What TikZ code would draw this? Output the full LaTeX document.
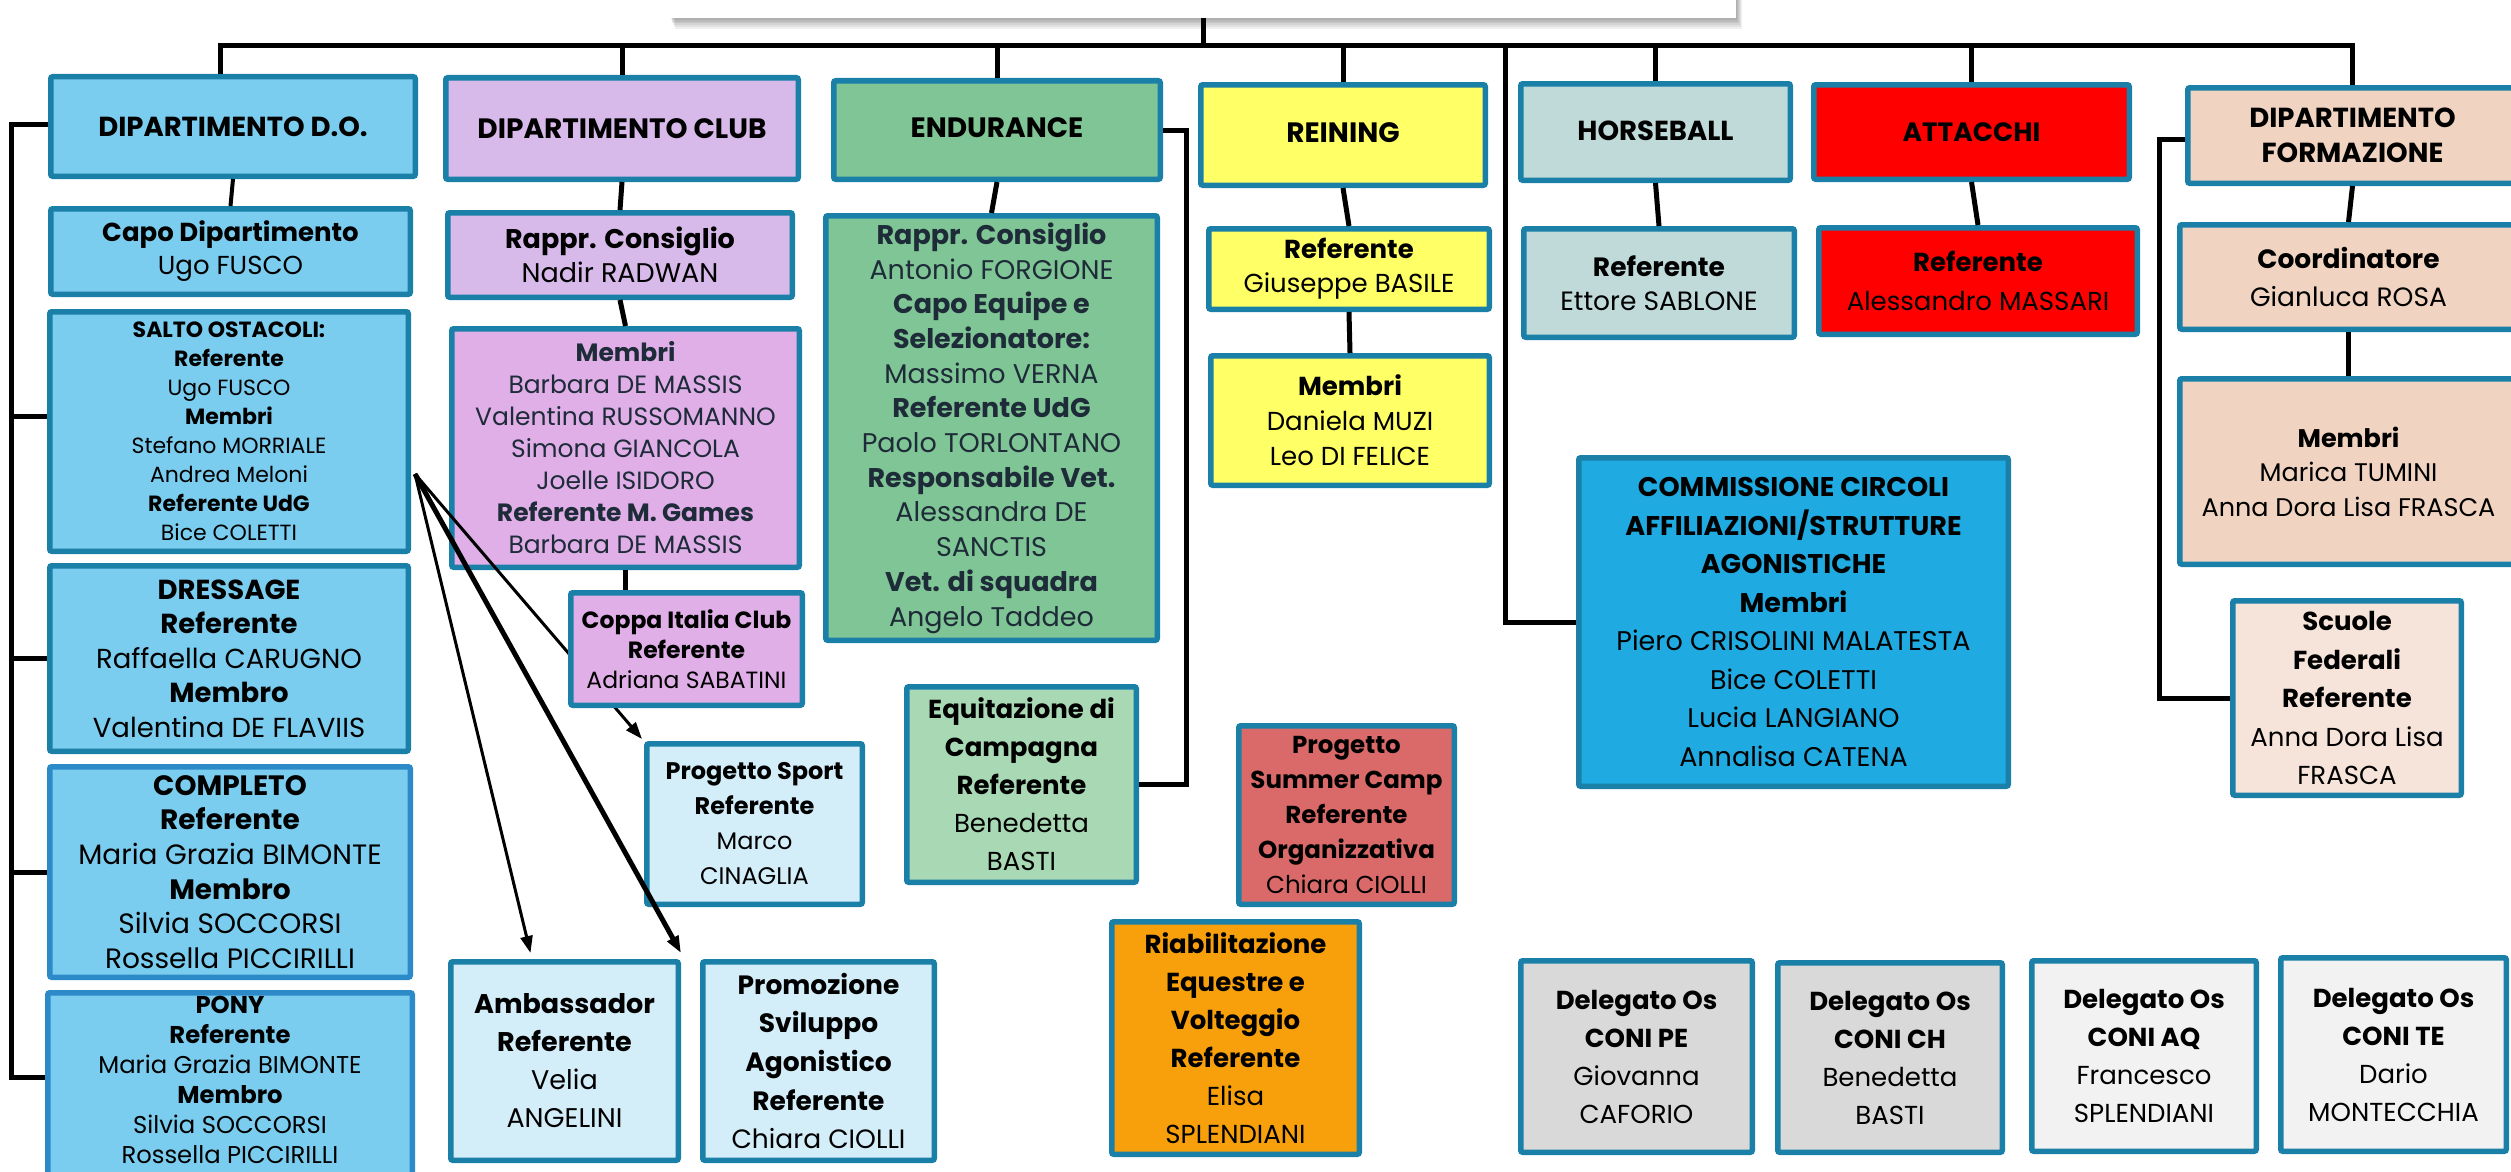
\documentclass[tikz,border=0pt]{standalone}
\usepackage{fontspec}
\setmainfont{Poppins}
\usetikzlibrary{arrows.meta,calc}
\definecolor{cBord}{HTML}{1A80A8}
\definecolor{cBordB}{HTML}{2C8AC9}
\definecolor{cDO}{HTML}{7ACDEF}
\definecolor{cClub}{HTML}{D7B9EA}
\definecolor{cClubB}{HTML}{E0AFE8}
\definecolor{cEnd}{HTML}{80C595}
\definecolor{cEq}{HTML}{A8D8B4}
\definecolor{cRein}{HTML}{FFFF66}
\definecolor{cHB}{HTML}{C0DADA}
\definecolor{cAtt}{HTML}{FF0000}
\definecolor{cForm}{HTML}{F0D4C1}
\definecolor{cFormB}{HTML}{F6E4DA}
\definecolor{cComm}{HTML}{1FABE1}
\definecolor{cLB}{HTML}{D3EDF9}
\definecolor{cSum}{HTML}{D96A69}
\definecolor{cOr}{HTML}{F8A00B}
\definecolor{cGa}{HTML}{D9D9D9}
\definecolor{cGb}{HTML}{F2F2F2}
\definecolor{cDark}{HTML}{1E2B38}
\newcommand\fz[2]{\fontsize{#1}{#2}\selectfont}
\newcommand\bx[7]{%
  \node[bx,#2,minimum width={#5-#3-5.5},minimum height={#6-#4-5.5}] (#1) at ({(#3+#5)/2},{(#4+#6)/2}) {#7};}
\tikzset{
  bx/.style={draw=cBord,line width=5.5pt,rounded corners=2pt,align=center,inner sep=0pt,text=black},
  conn/.style={line width=5pt,black},
  thinconn/.style={line width=4pt,black},
  arr/.style={black,-{Triangle[length=17pt,width=12pt]}}
}
\begin{document}
\begin{tikzpicture}[x=1pt,y=-1pt]
\useasboundingbox (0,0) rectangle (2511,1172);
\fill[white] (0,0) rectangle (2511,1172);
\clip (0,0) rectangle (2511,1172);

% top box with shadow
\foreach \s in {2,4,6,8,10,12}{
  \fill[black,opacity=0.06] (670+\s*0.4,-100) rectangle (1736+\s*0.5,18+\s*0.9);
}
\node[fill=white,inner sep=0pt,minimum width=1066,minimum height=118] (top) at (1203,-41) {};

% level 1
\bx{do}{fill=cDO,font={\fz{27.5}{32}\bfseries}}{48}{74}{418}{179}{DIPARTIMENTO D.O.}
\bx{club}{fill=cClub,font={\fz{28}{32}\bfseries}}{443}{75}{801}{182}{DIPARTIMENTO CLUB}
\bx{endu}{fill=cEnd,font={\fz{28}{32}\bfseries}}{831}{78}{1163}{182}{\raisebox{5pt}{ENDURANCE}}
\bx{rein}{fill=cRein,font={\fz{28}{32}\bfseries}}{1198}{82}{1488}{188}{\raisebox{5pt}{REINING}}
\bx{hb}{fill=cHB,font={\fz{27.5}{32}\bfseries}}{1518}{81}{1793}{183}{\raisebox{3pt}{HORSEBALL}}
\bx{att}{fill=cAtt,font={\fz{26.5}{32}\bfseries}}{1811}{82}{2132}{182}{ATTACCHI}
\bx{form}{fill=cForm,font={\fz{27.5}{35}\bfseries}}{2185}{85}{2520}{186}{DIPARTIMENTO\\FORMAZIONE}

% D.O. column
\bx{capo}{fill=cDO,font={\fz{26}{33}}}{48}{206}{413}{297}{\textbf{Capo Dipartimento}\\Ugo FUSCO}
\bx{salto}{fill=cDO,font={\fz{22}{29}}}{47}{309}{411}{554}{\textbf{SALTO OSTACOLI:}\\\textbf{Referente}\\Ugo FUSCO\\\textbf{Membri}\\Stefano MORRIALE\\Andrea Meloni\\\textbf{Referente UdG}\\Bice COLETTI}
\bx{dress}{fill=cDO,font={\fz{27.5}{34.5}}}{47}{563}{411}{754}{\textbf{DRESSAGE}\\\textbf{Referente}\\Raffaella CARUGNO\\\textbf{Membro}\\Valentina DE FLAVIIS}
\bx{comp}{fill=cDO,draw=cBordB,font={\fz{28}{34.6}}}{47}{764}{413}{980}{\textbf{COMPLETO}\\\textbf{Referente}\\Maria Grazia BIMONTE\\\textbf{Membro}\\Silvia SOCCORSI\\Rossella PICCIRILLI}
\bx{pony}{fill=cDO,draw=cBordB}{45}{990}{415}{1185}{}
\node[align=center,inner sep=0pt,font={\fz{24.3}{30}}] (ponyt) at (230,1080) {\textbf{PONY}\\\textbf{Referente}\\Maria Grazia BIMONTE\\\textbf{Membro}\\Silvia SOCCORSI\\Rossella PICCIRILLI};

% Club column
\bx{clubr}{fill=cClub,font={\fz{27}{34}}}{445}{210}{795}{300}{\textbf{Rappr. Consiglio}\\Nadir RADWAN}
\bx{clubm}{fill=cClubB,text=cDark,font={\fz{25}{32}}}{449}{326}{802}{570}{\textbf{Membri}\\Barbara DE MASSIS\\Valentina RUSSOMANNO\\Simona GIANCOLA\\Joelle ISIDORO\\\textbf{Referente M. Games}\\Barbara DE MASSIS}
\bx{psport}{fill=cLB,font={\fz{24}{35}}}{644}{741}{865}{907}{\textbf{Progetto Sport}\\\textbf{Referente}\\Marco\\CINAGLIA}
\bx{amb}{fill=cLB,font={\fz{27}{38}}}{448}{959}{681}{1163}{\textbf{Ambassador}\\\textbf{Referente}\\Velia\\ANGELINI}
\bx{prom}{fill=cLB,font={\fz{26.5}{38.6}}}{700}{959}{937}{1163}{\textbf{Promozione}\\\textbf{Sviluppo}\\\textbf{Agonistico}\\\textbf{Referente}\\Chiara CIOLLI}

% Endurance column
\bx{endus}{fill=cEnd,text=cDark,font={\fz{27}{34.7}}}{823}{213}{1160}{643}{\textbf{Rappr. Consiglio}\\Antonio FORGIONE\\\textbf{Capo Equipe e}\\\textbf{Selezionatore:}\\Massimo VERNA\\\textbf{Referente UdG}\\Paolo TORLONTANO\\\textbf{Responsabile Vet.}\\Alessandra DE\\SANCTIS\\\textbf{Vet. di squadra}\\Angelo Taddeo}
\bx{equi}{fill=cEq,font={\fz{26}{38}}}{904}{684}{1139}{885}{\textbf{Equitazione di}\\\textbf{Campagna}\\\textbf{Referente}\\Benedetta\\BASTI}
\bx{summer}{fill=cSum,font={\fz{24.5}{35}}}{1236}{723}{1457}{907}{\textbf{Progetto}\\\textbf{Summer Camp}\\\textbf{Referente}\\\textbf{Organizzativa}\\Chiara CIOLLI}
\bx{riab}{fill=cOr,font={\fz{26}{38}}}{1109}{919}{1362}{1157}{\textbf{Riabilitazione}\\\textbf{Equestre e}\\\textbf{Volteggio}\\\textbf{Referente}\\Elisa\\SPLENDIANI}

% Reining, Horseball, Attacchi
\bx{reinr}{fill=cRein,font={\fz{26}{34}}}{1206}{226}{1492}{312}{\textbf{Referente}\\Giuseppe BASILE}
\bx{reinm}{fill=cRein,font={\fz{26}{35}}}{1208}{353}{1492}{488}{\textbf{Membri}\\Daniela MUZI\\Leo DI FELICE}
\bx{hbr}{fill=cHB,font={\fz{26.5}{34.5}}}{1521}{226}{1797}{340}{\textbf{Referente}\\Ettore SABLONE}
\bx{attr}{fill=cAtt,font={\fz{26}{39}}}{1816}{225}{2140}{337}{\textbf{Referente}\\Alessandro MASSARI}

% Formazione
\bx{coord}{fill=cForm,font={\fz{26.5}{37.7}}}{2177}{222}{2520}{332}{\textbf{Coordinatore}\\Gianluca ROSA}
\bx{formm}{fill=cForm,font={\fz{25.5}{34.5}}}{2177}{376}{2520}{567}{\textbf{Membri}\\Marica TUMINI\\Anna Dora Lisa FRASCA}
\bx{scuole}{fill=cFormB,font={\fz{26}{38.5}}}{2230}{598}{2464}{798}{\textbf{Scuole}\\\textbf{Federali}\\\textbf{Referente}\\Anna Dora Lisa\\FRASCA}

% Commissione
\bx{comm}{fill=cComm,font={\fz{27}{38.5}}}{1576}{455}{2011}{789}{\textbf{COMMISSIONE CIRCOLI}\\\textbf{AFFILIAZIONI/STRUTTURE}\\\textbf{AGONISTICHE}\\\textbf{Membri}\\Piero CRISOLINI MALATESTA\\Bice COLETTI\\Lucia LANGIANO\\Annalisa CATENA}

% Delegati
\bx{dpe}{fill=cGa,font={\fz{26}{38}}}{1518}{958}{1755}{1155}{\textbf{Delegato Os}\\\textbf{CONI PE}\\Giovanna\\CAFORIO}
\bx{dch}{fill=cGa,font={\fz{26}{38}}}{1775}{960}{2005}{1155}{\textbf{Delegato Os}\\\textbf{CONI CH}\\Benedetta\\BASTI}
\bx{daq}{fill=cGb,font={\fz{26}{38}}}{2029}{958}{2259}{1154}{\textbf{Delegato Os}\\\textbf{CONI AQ}\\Francesco\\SPLENDIANI}
\bx{dte}{fill=cGb,font={\fz{26}{38}}}{2278}{955}{2509}{1154}{\textbf{Delegato Os}\\\textbf{CONI TE}\\Dario\\MONTECCHIA}

% connectors
\coordinate (bus) at (0,46);
\coordinate (dol) at (11,124);
\coordinate (commx) at (1505,46);
\draw[conn] (top.south) -- (top.south |- bus);
\draw[conn] ([xshift=-13pt]do.north) -- ([xshift=-13pt]do.north |- bus) -- (form.north |- bus) -- (form.north);
\foreach \n in {club,endu,rein,hb,att}{\draw[conn] (\n.north) -- (\n.north |- bus);}
\draw[conn] (commx) |- (comm.west);
\draw[conn] ([yshift=2pt]do.west) -- ([yshift=2pt]do.west -| dol) -- ([yshift=10pt]pony.west -| dol) -- ([yshift=10pt]pony.west);
\draw[conn] ([yshift=15pt]salto.west) -- ([yshift=15pt]salto.west -| dol);
\foreach \n in {dress,comp}{\draw[conn] (\n.west) -- (\n.west -| dol);}
\draw[thinconn] (do.south) -- (capo.north);
\draw[conn] (club.south) -- (clubr.north);
\draw[conn] (clubr.south) -- (clubm.north);
\draw[conn] (endu.south) -- (endus.north);
\draw[conn] (endu.east) -- ++(23,0) |- (equi.east);
\draw[conn] (rein.south) -- (reinr.north);
\draw[conn] (reinr.south) -- (reinm.north);
\draw[conn] (hb.south) -- (hbr.north);
\draw[conn] (att.south) -- (attr.north);
\draw[conn] (form.south) -- (coord.north);
\draw[conn] (coord.south) -- (formm.north);
\draw[conn] ([yshift=-4pt]form.west) -- ++(-26,0) |- (scuole.west);

% arrows
\coordinate (aO) at (415,474);
\draw[arr,line width=3pt] (aO) -- ($(amb.north west)!0.354!(amb.north east)+(0,-6)$);
\draw[arr,line width=5pt] (aO) -- ($(amb.north east)+(0,-6)$);
\draw[arr,line width=3pt] (aO) -- ($(psport.north west)+(-2,-2)$);

% Coppa box drawn above the arrow
\bx{coppa}{fill=cClubB,font={\fz{23.5}{30}}}{568}{590}{805}{708}{\textbf{Coppa Italia Club}\\\textbf{Referente}\\Adriana SABATINI}
\draw[conn] (clubm.south) -- (clubm.south |- coppa.north);
\end{tikzpicture}
\end{document}
